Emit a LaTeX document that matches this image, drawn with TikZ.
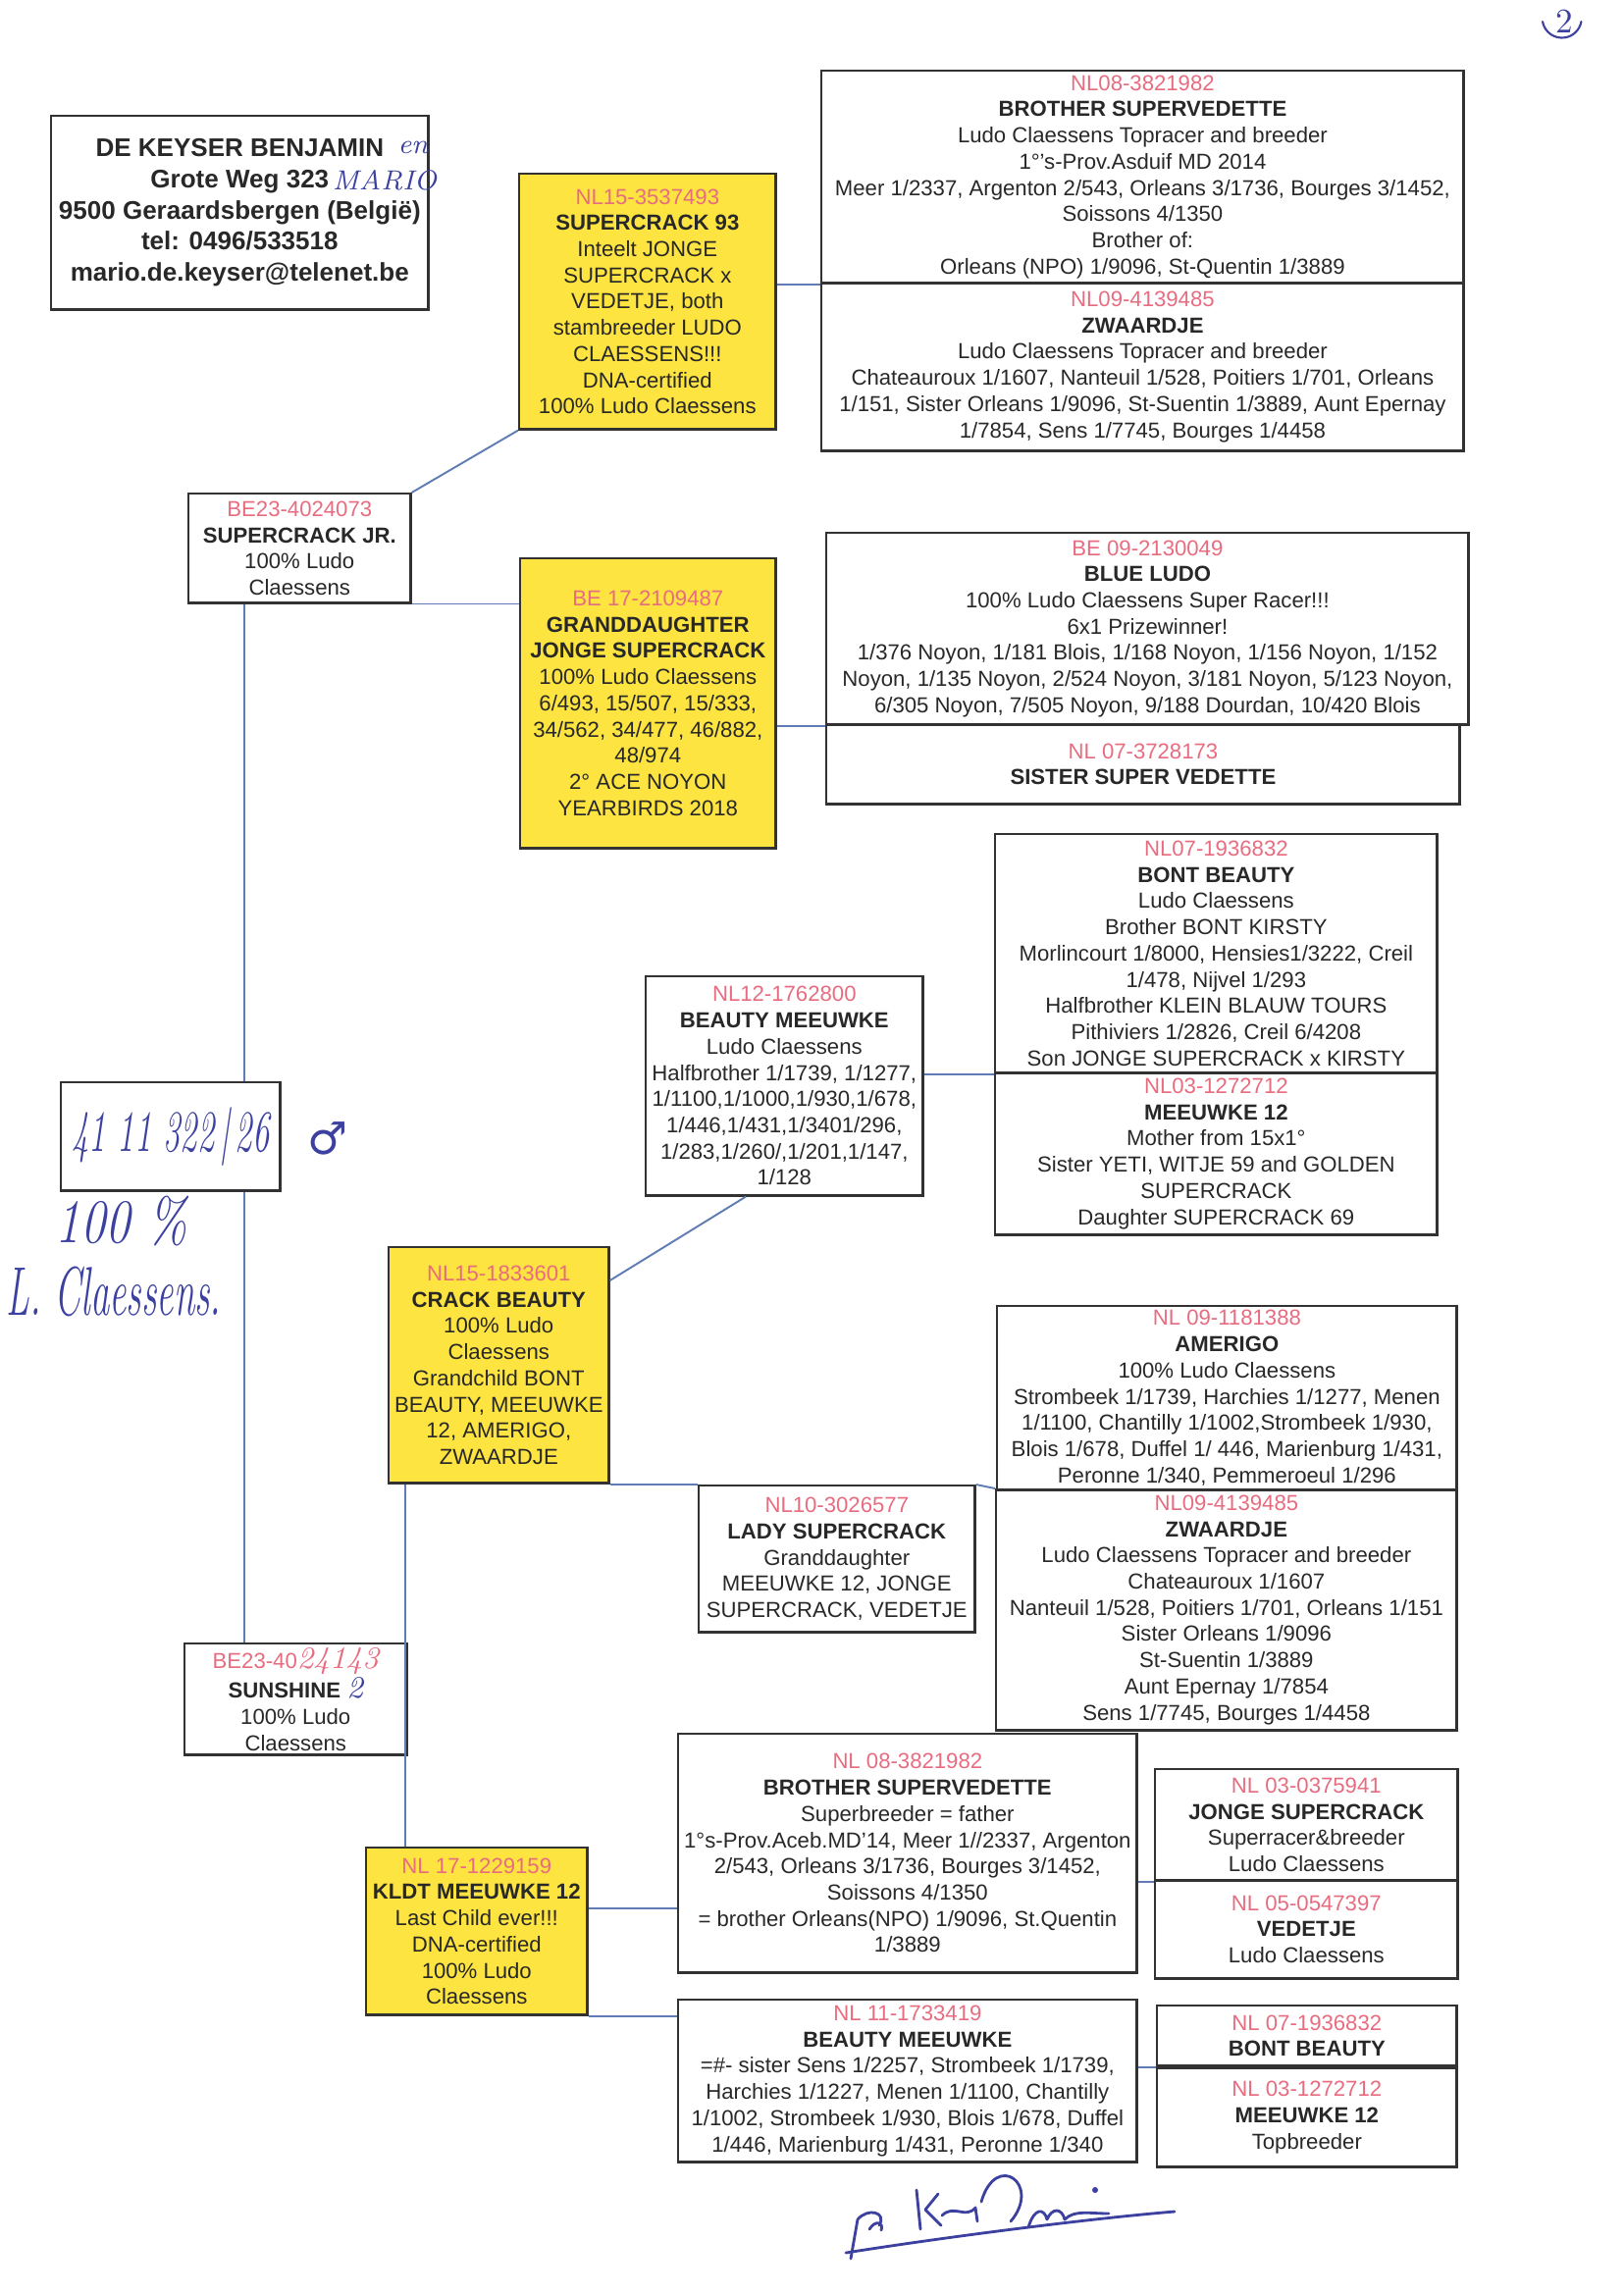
\documentclass[tikz,border=0pt]{standalone}
\usepackage{fontspec}
\usepackage{graphicx}
\setsansfont{Liberation Sans}
\newfontfamily\symfont{DejaVu Sans}
\usetikzlibrary{calc}

\definecolor{boxyellow}{RGB}{253,228,64}
\definecolor{idpink}{RGB}{232,108,128}
\definecolor{inkgray}{RGB}{40,40,40}
\definecolor{boxline}{RGB}{50,50,50}
\definecolor{linkblue}{RGB}{95,125,180}
\definecolor{penblue}{RGB}{60,65,160}

\newcommand{\ringno}[1]{{\color{idpink}#1}}

\tikzset{
  bird/.style={draw=boxline, line width=0.7pt, anchor=north west, align=center,
    inner xsep=0.5pt, inner ysep=0.5pt, text=inkgray,
    font=\sffamily\fontsize{6.3}{7.6}\selectfont},
  keybird/.style={bird, fill=boxyellow},
  owner/.style={bird, font=\sffamily\bfseries\fontsize{7.4}{9}\selectfont},
  link/.style={draw=linkblue, line width=0.55pt},
  pen/.style={text=penblue, inner sep=0pt},
  penline/.style={draw=penblue, line width=0.8pt, line cap=round, line join=round}
}

\begin{document}
\begin{tikzpicture}[x=0.01cm,y=-0.01cm]
\useasboundingbox (0,0) rectangle (1654,2337);

% breeder
\node[owner, minimum width=3.84cm, minimum height=1.97cm] (owner) at (51,117)
  {DE KEYSER BENJAMIN\\Grote Weg 323\\9500 Geraardsbergen (België)\\tel: 0496/533518\\mario.de.keyser@telenet.be};
\node[pen, font=\rmfamily\itshape\fontsize{8}{8}\selectfont] (en) at (421,150) {en};
\node[pen, font=\rmfamily\itshape\fontsize{8}{8}\selectfont] (mario) at (392,184) {MARIO};
\node[pen, font=\rmfamily\fontsize{10}{10}\selectfont] (pageno) at (1594,22) {2};
\draw[penline, line width=0.6pt] (1572,22) arc[start angle=190, end angle=350, radius=0.2cm];

% parents
\node[bird, minimum width=2.26cm, minimum height=1.11cm] (scjr) at (191,502)
  {\ringno{BE23-4024073}\\\textbf{SUPERCRACK JR.}\\100\% Ludo\\Claessens};
\node[bird, minimum width=2.26cm, minimum height=1.13cm] (sun) at (187,1674)
  {\ringno{BE23-40}{\color{idpink}\rmfamily\itshape\fontsize{9}{7.6}\selectfont 24143}\\\textbf{SUNSHINE} {\color{penblue}\rmfamily\itshape\fontsize{9}{7.6}\selectfont 2}\\100\% Ludo\\Claessens};

% the bird itself
\node[bird, minimum width=2.23cm, minimum height=1.10cm, font=\rmfamily\itshape\fontsize{17}{17}\selectfont, text=penblue] (hand) at (61,1102)
  {\scalebox{0.58}[1]{41 11 322\,|\,26}};
\node[pen, font=\symfont\fontsize{13}{13}\selectfont] (sex) at (334,1160) {♂};
\node[pen, font=\rmfamily\itshape\fontsize{18}{18}\selectfont] (pct) at (124,1245) {\scalebox{0.8}[1]{100 \%}};
\node[pen, font=\rmfamily\itshape\fontsize{20}{20}\selectfont] (lc) at (116,1316) {\scalebox{0.55}[1]{L. Claessens.}};

% grandparents
\node[keybird, minimum width=2.61cm, minimum height=2.60cm] (sc93) at (528,176)
  {\ringno{NL15-3537493}\\\textbf{SUPERCRACK 93}\\Inteelt JONGE\\SUPERCRACK x\\VEDETJE, both\\stambreeder LUDO\\CLAESSENS!!!\\DNA-certified\\100\% Ludo Claessens};
\node[keybird, minimum width=2.60cm, minimum height=2.95cm] (gdjs) at (529,568)
  {\ringno{BE 17-2109487}\\\textbf{GRANDDAUGHTER}\\\textbf{JONGE SUPERCRACK}\\100\% Ludo Claessens\\6/493, 15/507, 15/333,\\34/562, 34/477, 46/882,\\48/974\\2° ACE NOYON\\YEARBIRDS 2018};
\node[keybird, minimum width=2.24cm, minimum height=2.40cm] (crb) at (395,1270)
  {\ringno{NL15-1833601}\\\textbf{CRACK BEAUTY}\\100\% Ludo\\Claessens\\Grandchild BONT\\BEAUTY, MEEUWKE\\12, AMERIGO,\\ZWAARDJE};
\node[keybird, minimum width=2.25cm, minimum height=1.70cm] (kldt) at (372,1882)
  {\ringno{NL 17-1229159}\\\textbf{KLDT MEEUWKE 12}\\Last Child ever!!!\\DNA-certified\\100\% Ludo\\Claessens};

% great-grandparents
\node[bird, minimum width=6.54cm, minimum height=2.16cm] (bsv) at (836,71)
  {\ringno{NL08-3821982}\\\textbf{BROTHER SUPERVEDETTE}\\Ludo Claessens Topracer and breeder\\1°'s-Prov.Asduif MD 2014\\Meer 1/2337, Argenton 2/543, Orleans 3/1736, Bourges 3/1452,\\Soissons 4/1350\\Brother of:\\Orleans (NPO) 1/9096, St-Quentin 1/3889};
\node[bird, minimum width=6.54cm, minimum height=1.71cm] (zw1) at (836,287)
  {\ringno{NL09-4139485}\\\textbf{ZWAARDJE}\\Ludo Claessens Topracer and breeder\\Chateauroux 1/1607, Nanteuil 1/528, Poitiers 1/701, Orleans\\1/151, Sister Orleans 1/9096, St-Suentin 1/3889, Aunt Epernay\\1/7854, Sens 1/7745, Bourges 1/4458};
\node[bird, minimum width=6.54cm, minimum height=1.95cm] (blue) at (841,542)
  {\ringno{BE 09-2130049}\\\textbf{BLUE LUDO}\\100\% Ludo Claessens Super Racer!!!\\6x1 Prizewinner!\\1/376 Noyon, 1/181 Blois, 1/168 Noyon, 1/156 Noyon, 1/152\\Noyon, 1/135 Noyon, 2/524 Noyon, 3/181 Noyon, 5/123 Noyon,\\6/305 Noyon, 7/505 Noyon, 9/188 Dourdan, 10/420 Blois};
\node[bird, minimum width=6.45cm, minimum height=0.81cm] (sister) at (841,737)
  {\ringno{NL 07-3728173}\\\textbf{SISTER SUPER VEDETTE}};
\node[bird, minimum width=2.82cm, minimum height=2.23cm] (bm12) at (657,994)
  {\ringno{NL12-1762800}\\\textbf{BEAUTY MEEUWKE}\\Ludo Claessens\\Halfbrother 1/1739, 1/1277,\\1/1100,1/1000,1/930,1/678,\\1/446,1/431,1/3401/296,\\1/283,1/260/,1/201,1/147,\\1/128};
\node[bird, minimum width=2.81cm, minimum height=1.49cm] (lady) at (711,1513)
  {\ringno{NL10-3026577}\\\textbf{LADY SUPERCRACK}\\Granddaughter\\MEEUWKE 12, JONGE\\SUPERCRACK, VEDETJE};
\node[bird, minimum width=4.67cm, minimum height=2.43cm] (bsv2) at (690,1766)
  {\ringno{NL 08-3821982}\\\textbf{BROTHER SUPERVEDETTE}\\Superbreeder = father\\1°s-Prov.Aceb.MD'14, Meer 1//2337, Argenton\\2/543, Orleans 3/1736, Bourges 3/1452,\\Soissons 4/1350\\= brother Orleans(NPO) 1/9096, St.Quentin\\1/3889};
\node[bird, minimum width=4.67cm, minimum height=1.65cm] (bm11) at (690,2037)
  {\ringno{NL 11-1733419}\\\textbf{BEAUTY MEEUWKE}\\=\#- sister Sens 1/2257, Strombeek 1/1739,\\Harchies 1/1227, Menen 1/1100, Chantilly\\1/1002, Strombeek 1/930, Blois 1/678, Duffel\\1/446, Marienburg 1/431, Peronne 1/340};

% great-great-grandparents
\node[bird, minimum width=4.50cm, minimum height=2.43cm] (bontb) at (1013,849)
  {\ringno{NL07-1936832}\\\textbf{BONT BEAUTY}\\Ludo Claessens\\Brother BONT KIRSTY\\Morlincourt 1/8000, Hensies1/3222, Creil\\1/478, Nijvel 1/293\\Halfbrother KLEIN BLAUW TOURS\\Pithiviers 1/2826, Creil 6/4208\\Son JONGE SUPERCRACK x KIRSTY};
\node[bird, minimum width=4.50cm, minimum height=1.65cm] (m12) at (1013,1092)
  {\ringno{NL03-1272712}\\\textbf{MEEUWKE 12}\\Mother from 15x1°\\Sister YETI, WITJE 59 and GOLDEN\\SUPERCRACK\\Daughter SUPERCRACK 69};
\node[bird, minimum width=4.68cm, minimum height=1.87cm] (amer) at (1015,1330)
  {\ringno{NL 09-1181388}\\\textbf{AMERIGO}\\100\% Ludo Claessens\\Strombeek 1/1739, Harchies 1/1277, Menen\\1/1100, Chantilly 1/1002,Strombeek 1/930,\\Blois 1/678, Duffel 1/ 446, Marienburg 1/431,\\Peronne 1/340, Pemmeroeul 1/296};
\node[bird, minimum width=4.69cm, minimum height=2.45cm] (zw2) at (1014,1517)
  {\ringno{NL09-4139485}\\\textbf{ZWAARDJE}\\Ludo Claessens Topracer and breeder\\Chateauroux 1/1607\\Nanteuil 1/528, Poitiers 1/701, Orleans 1/151\\Sister Orleans 1/9096\\St-Suentin 1/3889\\Aunt Epernay 1/7854\\Sens 1/7745, Bourges 1/4458};
\node[bird, minimum width=3.08cm, minimum height=1.13cm] (jsc) at (1176,1802)
  {\ringno{NL 03-0375941}\\\textbf{JONGE SUPERCRACK}\\Superracer\&breeder\\Ludo Claessens};
\node[bird, minimum width=3.08cm, minimum height=1.00cm] (ved) at (1176,1915)
  {\ringno{NL 05-0547397}\\\textbf{VEDETJE}\\Ludo Claessens};
\node[bird, minimum width=3.05cm, minimum height=0.61cm] (bb2) at (1178,2043)
  {\ringno{NL 07-1936832}\\\textbf{BONT BEAUTY}};
\node[bird, minimum width=3.05cm, minimum height=1.00cm] (m12b) at (1178,2107)
  {\ringno{NL 03-1272712}\\\textbf{MEEUWKE 12}\\Topbreeder};

% connectors
\coordinate (stem) at (249,0);
\coordinate (stem2) at (413,0);
\coordinate (k1) at ([yshift=-0.63cm]kldt.north east);
\draw[link] (scjr.north east) -- (sc93.south west);
\draw[link] (scjr.south east) -- (scjr.south east -| gdjs.west);
\draw[link] (scjr.south -| stem) -- (hand.north -| stem);
\draw[link] (hand.south -| stem) -- (sun.north -| stem);
\draw[link] (bsv.south west -| sc93.east) -- (bsv.south west);
\draw[link] (blue.south west -| gdjs.east) -- (blue.south west);
\draw[link] (bontb.south west -| bm12.east) -- (bontb.south west);
\draw[link] ([xshift=1.03cm]bm12.south west) -- ([yshift=-0.35cm]crb.north east);
\draw[link] (crb.south east) -- (crb.south east -| lady.west);
\draw[link] (lady.north east) -- (zw2.north west);
\draw[link] (crb.south -| stem2) -- (kldt.north -| stem2);
\draw[link] (k1) -- (k1 -| bsv2.west);
\draw[link] (kldt.south east) -- (kldt.south east -| bm11.west);
\draw[link] (jsc.south west -| bsv2.east) -- (jsc.south west);
\draw[link] (m12b.north west -| bm11.east) -- (m12b.north west);

% signature
\draw[penline] (862,2296) .. controls (950,2282) and (1100,2262) .. (1197,2254);
\draw[penline] (867,2302) -- (874,2262) .. controls (884,2250) and (904,2254) .. (896,2268);
\draw[penline] (886,2272) .. controls (892,2262) and (901,2265) .. (898,2273);
\draw[penline] (934,2232) -- (938,2272);
\draw[penline] (956,2236) -- (943,2252) -- (959,2268);
\draw[penline] (960,2258) .. controls (972,2246) and (984,2262) .. (994,2250) -- (996,2264);
\draw[penline] (1000,2244) .. controls (1015,2192) and (1062,2226) .. (1030,2264);
\draw[penline] (1048,2270) .. controls (1054,2250) and (1064,2250) .. (1067,2262)
  .. controls (1072,2250) and (1082,2250) .. (1085,2262)
  .. controls (1095,2252) and (1110,2256) .. (1130,2256);
\fill[penblue] (1116,2232) circle (0.03cm);
\end{tikzpicture}
\end{document}
